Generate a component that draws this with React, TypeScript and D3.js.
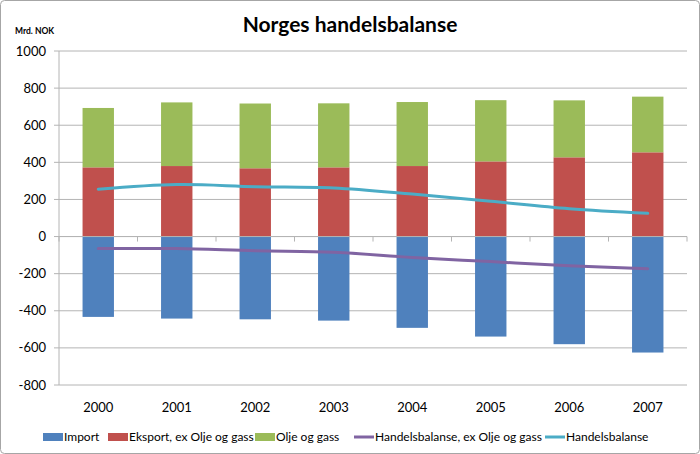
import React from "react";
import * as d3 from "d3";

const years = ["2000", "2001", "2002", "2003", "2004", "2005", "2006", "2007"];
const importVals = [-433, -442, -446, -453, -492, -539, -580, -625];
const eksportExOil = [373, 380, 368, 373, 380, 405, 427, 454];
const oljeGass = [320, 343, 349, 345, 345, 330, 307, 300];
const handelsbalanseExOil = [-65, -65, -77, -85, -113, -135, -157, -173];
const handelsbalanse = [255, 280, 269, 262, 229, 190, 150, 125];
const yTicks = [1000, 800, 600, 400, 200, 0, -200, -400, -600, -800];

const C = {
  blue: "#4F81BD",
  red: "#C0504D",
  green: "#9BBB59",
  purple: "#8064A2",
  cyan: "#4BACC6",
};

const W = 700;
const H = 454;
const left = 59;
const right = 687;
const top = 51;
const bottom = 385;
const font = "Lato, 'Open Sans', sans-serif";

export default function App() {
  const x = d3.scaleBand<string>().domain(years).range([left, right]).paddingInner(0.6).paddingOuter(0.3);
  const xb = d3.scaleBand<string>().domain(years).range([left, right]);
  const y = d3.scaleLinear().domain([-800, 1000]).range([bottom, top]);
  const line = (vals: number[]) =>
    d3
      .line<number>()
      .x((_, i) => (xb(years[i]) as number) + xb.bandwidth() / 2)
      .y((v) => y(v))
      .curve(d3.curveCatmullRom.alpha(0.5))(vals) as string;

  const legend = [
    { type: "rect", color: C.blue, label: "Import", x: 43 },
    { type: "rect", color: C.red, label: "Eksport, ex Olje og gass", x: 108 },
    { type: "rect", color: C.green, label: "Olje og gass", x: 255 },
    { type: "line", color: C.purple, label: "Handelsbalanse, ex Olje og gass", x: 354 },
    { type: "line", color: C.cyan, label: "Handelsbalanse", x: 545 },
  ];
  const ly = 437;

  return (
    <svg
      width={W}
      height={H}
      style={{ position: "absolute", left: 0, top: 0, fontFamily: font }}
    >
      <rect x={0.5} y={0.5} width={W - 1} height={H - 1} rx={4} fill="#fff" stroke="#a6a6a6" />
      <text x={350} y={32} textAnchor="middle" fontSize={21} fontWeight="bold" fill="#000">
        Norges handelsbalanse
      </text>
      <text x={15} y={34} fontSize={8.5} fontWeight="bold" fill="#000">
        Mrd. NOK
      </text>
      {yTicks.map((t) => (
        <g key={t}>
          <line x1={left} x2={right} y1={y(t)} y2={y(t)} stroke="#b4b4b4" strokeWidth={1} />
          <line x1={left - 5} x2={left} y1={y(t)} y2={y(t)} stroke="#b4b4b4" strokeWidth={1} />
          <text x={46} y={y(t)} dy="0.35em" textAnchor="end" fontSize={13} fill="#000">
            {t}
          </text>
        </g>
      ))}
      <line x1={left} x2={left} y1={top} y2={bottom} stroke="#b4b4b4" strokeWidth={1} />
      {years.map((yr, i) => {
        const bx = x(yr) as number;
        const bw = x.bandwidth();
        return (
          <g key={yr}>
            <rect x={bx} y={y(0)} width={bw} height={y(importVals[i]) - y(0)} fill={C.blue} />
            <rect x={bx} y={y(eksportExOil[i])} width={bw} height={y(0) - y(eksportExOil[i])} fill={C.red} />
            <rect
              x={bx}
              y={y(eksportExOil[i] + oljeGass[i])}
              width={bw}
              height={y(eksportExOil[i]) - y(eksportExOil[i] + oljeGass[i])}
              fill={C.green}
            />
          </g>
        );
      })}
      <line x1={left} x2={right} y1={y(0)} y2={y(0)} stroke="#b4b4b4" strokeWidth={1} />
      {years.concat(["end"]).map((yr, i) => {
        const tx = left + i * xb.bandwidth();
        return <line key={yr} x1={tx} x2={tx} y1={y(0)} y2={y(0) + 5} stroke="#b4b4b4" strokeWidth={1} />;
      })}
      <path d={line(handelsbalanseExOil)} fill="none" stroke={C.purple} strokeWidth={3} strokeLinecap="round" />
      <path d={line(handelsbalanse)} fill="none" stroke={C.cyan} strokeWidth={3} strokeLinecap="round" />
      {years.map((yr) => (
        <text
          key={yr}
          x={(xb(yr) as number) + xb.bandwidth() / 2}
          y={407}
          dy="0.35em"
          textAnchor="middle"
          fontSize={13}
          fill="#000"
        >
          {yr}
        </text>
      ))}
      {legend.map((l) => (
        <g key={l.label}>
          {l.type === "rect" ? (
            <rect x={l.x} y={ly - 4} width={20} height={8} fill={l.color} />
          ) : (
            <line x1={l.x} x2={l.x + 20} y1={ly} y2={ly} stroke={l.color} strokeWidth={3} />
          )}
          <text x={l.x + 21} y={ly} dy="0.35em" fontSize={12} fill="#000">
            {l.label}
          </text>
        </g>
      ))}
    </svg>
  );
}
